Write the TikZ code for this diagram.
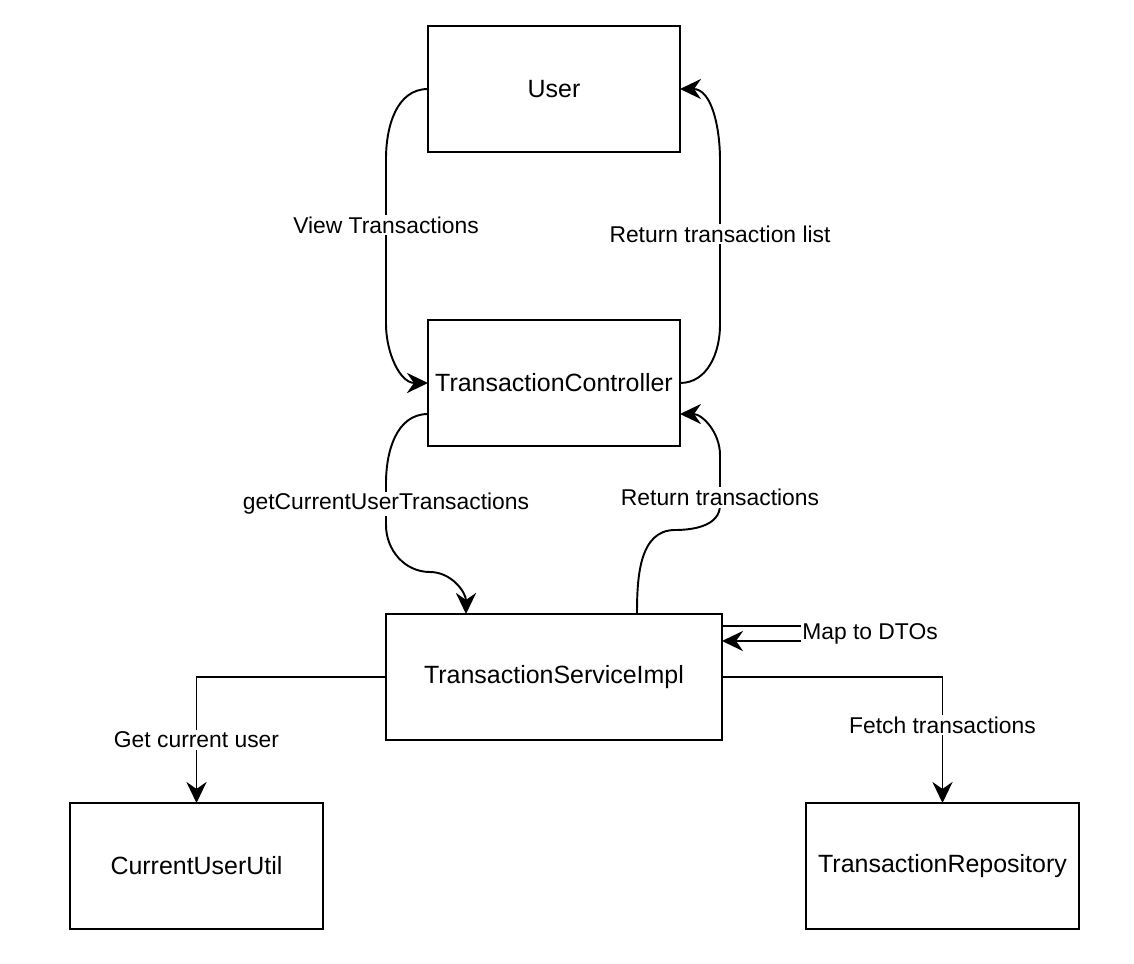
\documentclass[tikz,border=0pt]{standalone}
\usepackage{fontspec}
\setmainfont{Liberation Sans}
\usetikzlibrary{arrows.meta, positioning, calc}

\begin{document}
\begin{tikzpicture}[
    >={Stealth[length=12pt, width=11.5pt, inset=4pt]},
    node distance=3.36cm,
    box/.style={draw, line width=1.1pt, rectangle, minimum width=5.04cm, minimum height=2.52cm, align=center, outer sep=0pt, font=\fontsize{14.2}{17}\selectfont},
    flow/.style={->, line width=1.1pt},
    lbl/.style={fill=white, inner sep=1pt, font=\fontsize{13}{15}\selectfont}
]
\useasboundingbox (0,0) rectangle (22.68,-19.28);

% Components
\node[box] (user) at (11.08,-1.78) {User};
\node[box, below=of user] (ctrl) {TransactionController};
\node[box, minimum width=6.72cm, below=of ctrl] (svc) {TransactionServiceImpl};
\node[box, minimum width=5.06cm, below left=1.26cm and 1.26cm of svc] (util) {CurrentUserUtil};
\node[box, minimum width=5.46cm, below right=1.26cm and 1.68cm of svc] (repo) {TransactionRepository};

% User <-> Controller
\draw[flow] (user.west) to[out=180, in=90] ++(-0.84,-1.4) -- node[lbl, pos=0.4] {View Transactions} ++(0,-3.3) to[out=-90, in=180] (ctrl.west);
\draw[flow] (ctrl.east) to[out=0, in=-90] ++(0.8,1.16) -- node[lbl, pos=0.55] {Return transaction list} ++(0,3.3) to[out=90, in=0] (user.east);

% Controller <-> Service
\draw[flow] ($(ctrl.west)+(0,-0.62)$) to[out=180, in=90] ++(-0.84,-1.38) -- node[lbl] {getCurrentUserTransactions} ++(0,-0.84) to[out=-90, in=180] ++(0.88,-0.94) to[out=0, in=90] ($(svc.north west)+(1.6,0)$);
\draw[flow] ($(svc.north west)+(5.02,0)$) to[out=90, in=180] ++(0.76,1.68) to[out=0, in=-90] ++(0.9,0.5) -- node[lbl, pos=0.15] {Return transactions} ++(0,1) to[out=90, in=0] ($(ctrl.east)+(0,-0.62)$);

% Service self loop
\draw[flow] ($(svc.north east)+(0,-0.24)$) -- ++(2.16,0) -- node[lbl, xshift=0.8cm] {Map to DTOs} ++(0,-0.3) -- ($(svc.north east)+(0,-0.54)$);

% Service -> helpers
\draw[flow] (svc.west) -| node[lbl, pos=0.75] {Get current user} (util.north);
\draw[flow] (svc.east) -| node[lbl, pos=0.69] {Fetch transactions} (repo.north);

\end{tikzpicture}
\end{document}
